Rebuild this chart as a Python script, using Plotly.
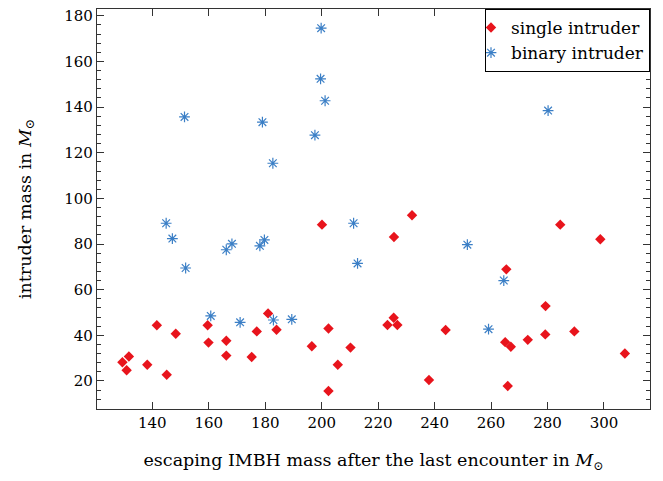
import plotly.graph_objects as go

# escaping IMBH mass (x) vs. intruder mass (y), both in solar masses
single_imbh = [141.6, 148.3, 131.7, 129.4, 130.9, 138.2, 145.1, 159.6, 159.9, 166.2,
               166.2, 175.2, 177.0, 181.0, 184.0,
               200.1, 232.0, 225.6, 202.4, 196.5, 210.2, 205.7, 202.4, 225.5, 223.3,
               226.8, 243.9, 238.0,
               284.5, 298.7, 265.4, 279.3, 279.2, 289.5, 265.0, 267.0, 273.0, 307.4,
               265.9]
single_mass = [44.4, 40.7, 30.7, 28.2, 24.7, 27.1, 22.7, 44.4, 36.8, 37.6,
               31.1, 30.5, 41.7, 49.6, 42.4,
               88.5, 92.6, 83.1, 43.0, 35.2, 34.6, 27.1, 15.6, 47.7, 44.5,
               44.5, 42.3, 20.4,
               88.5, 82.1, 68.9, 52.8, 40.4, 41.7, 37.0, 35.0, 38.0, 32.0,
               17.8]

binary_imbh = [151.4, 179.0, 182.7, 199.8, 199.6, 201.2, 197.6, 280.2,
               144.9, 147.1, 151.8, 166.2, 168.2, 178.1, 179.7, 160.7, 171.1, 182.9,
               189.4, 211.3, 212.7, 251.6, 264.5, 259.1]
binary_mass = [135.7, 133.4, 115.4, 174.6, 152.4, 142.8, 127.7, 138.5,
               89.1, 82.4, 69.5, 77.5, 80.1, 79.2, 81.8, 48.5, 45.7, 46.7,
               47.0, 89.1, 71.5, 79.7, 64.0, 42.7]

x_ticks = [140, 160, 180, 200, 220, 240, 260, 280, 300]
y_ticks = [20, 40, 60, 80, 100, 120, 140, 160, 180]

SERIF = "DejaVu Serif"
RED = "#e8141c"
BLUE = "#3b7fc6"
AXIS = "#333333"

fig = go.Figure()
fig.add_trace(go.Scatter(
    x=single_imbh, y=single_mass, mode="markers", name="single intruder",
    marker=dict(symbol="diamond", size=8, color=RED, line=dict(width=0)),
))
fig.add_trace(go.Scatter(
    x=binary_imbh, y=binary_mass, mode="markers", name="binary intruder",
    marker=dict(symbol="asterisk-open", size=9, color=BLUE,
                line=dict(width=1.2, color=BLUE)),
))

axis_common = dict(
    showgrid=False, zeroline=False, showline=True, linecolor=AXIS,
    linewidth=1.2, mirror="ticks", ticks="inside", tickcolor=AXIS,
    tickfont=dict(family=SERIF, size=15, color="black"),
)

fig.update_xaxes(
    range=[120.4, 316.3], tickvals=x_ticks, ticklen=7, tickwidth=1.2,
    title=dict(text="escaping IMBH mass after the last encounter in <i>M</i><sub>⊙</sub>",
               font=dict(family=SERIF, size=17.5, color="black"), standoff=22),
    **axis_common,
)
fig.update_yaxes(
    range=[7.7, 183.0], tickvals=y_ticks, ticklen=7, tickwidth=1.2,
    minor=dict(dtick=4, tick0=0, ticks="inside", ticklen=4, tickcolor=AXIS,
               tickwidth=1, showgrid=False),
    title=dict(text="intruder mass in <i>M</i><sub>⊙</sub>",
               font=dict(family=SERIF, size=17.5, color="black"), standoff=28),
    **axis_common,
)

fig.update_layout(
    width=663, height=481,
    margin=dict(l=97, r=13, t=7, b=72),
    paper_bgcolor="white", plot_bgcolor="white",
    font=dict(family=SERIF, size=17, color="black"),
    showlegend=True,
    legend=dict(x=1, y=1, xanchor="right", yanchor="top",
                bordercolor="black", borderwidth=1, bgcolor="white",
                font=dict(family=SERIF, size=17, color="black"),
                itemwidth=30, tracegroupgap=0, indentation=-15),
)

fig.write_html("out.html")
